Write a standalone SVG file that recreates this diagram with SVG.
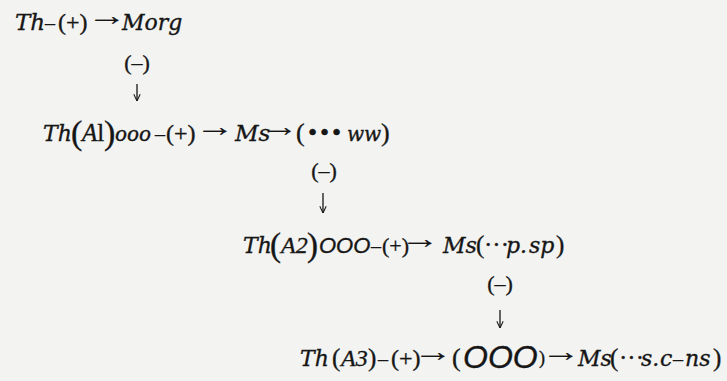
<svg xmlns="http://www.w3.org/2000/svg" width="727" height="381" viewBox="0 0 727 381">
<defs>
<style>
text{font-family:"Liberation Serif",serif;fill:#161616;stroke:#161616;stroke-width:0.35}
.i{font-family:"DejaVu Serif",serif;font-style:italic}
.t{font-family:"Liberation Serif",serif;font-style:italic}
.s{font-family:"Liberation Sans",sans-serif;font-style:italic}
.a{font-size:28px;stroke-width:0.2}
.lab{font-size:22px;text-anchor:middle}
.conn{stroke:#161616;stroke-width:1.3;fill:none}
</style>
<marker id="ah" viewBox="0 0 10 10" refX="9.5" refY="5" markerWidth="8" markerHeight="8" markerUnits="userSpaceOnUse" orient="auto">
<path d="M1,1 L9.5,5 L1,9" fill="none" stroke="#161616" stroke-width="1.3"/>
</marker>
</defs>
<rect width="727" height="381" fill="#f3f3f1"/>

<g id="node1">
<text y="30" font-size="24"><tspan class="i" x="15" font-size="23">Th</tspan><tspan x="45" font-size="20">–</tspan><tspan x="58">(+)</tspan><tspan class="i" x="122" font-size="22">Morg</tspan></text>
<text class="a" transform="translate(87,25) scale(1.4,1)">→</text>
</g>

<g id="node2">
<text y="141" font-size="24"><tspan class="i" x="43" font-size="22">Th</tspan><tspan x="71" y="144" font-size="34">(</tspan><tspan class="t" x="82" y="141" font-size="25">A</tspan><tspan font-size="25">l</tspan><tspan x="104" y="144" font-size="34">)</tspan><tspan class="i" x="115" y="141" font-size="20">ooo</tspan><tspan x="155" font-size="20">–</tspan><tspan x="166">(+)</tspan><tspan class="i" x="235" font-size="23">Ms</tspan><tspan x="296" font-size="26">(</tspan><tspan x="308" font-size="26">•</tspan><tspan x="320" font-size="26">•</tspan><tspan x="332" font-size="26">•</tspan><tspan class="i" x="347" font-size="20">ww</tspan><tspan x="381" font-size="26">)</tspan></text>
<text class="a" transform="translate(195,136) scale(1.4,1)">→</text>
<text class="a" transform="translate(262,136) scale(1.3,1)">→</text>
</g>

<g id="node3">
<text y="253" font-size="24"><tspan class="i" x="243" font-size="22">Th</tspan><tspan x="270" y="256" font-size="33">(</tspan><tspan class="t" x="281" y="253" font-size="24">A2</tspan><tspan x="307" y="256" font-size="33">)</tspan><tspan class="s" x="319" y="253" font-size="22">OOO</tspan><tspan x="371" font-size="20">–</tspan><tspan x="382" font-size="22">(+)</tspan><tspan class="i" x="443" font-size="22">Ms</tspan><tspan x="476" font-size="25">(</tspan><tspan x="484" font-size="25">···</tspan><tspan class="i" x="506" font-size="22">p.</tspan><tspan class="i" x="529" font-size="22">sp</tspan><tspan x="556" font-size="25">)</tspan></text>
<text class="a" transform="translate(400,248) scale(1.4,1)">→</text>
</g>

<g id="node4">
<text y="366" font-size="24"><tspan class="i" x="300" font-size="22">Th</tspan><tspan x="332" font-size="25">(</tspan><tspan class="t" x="341" font-size="24">A3</tspan><tspan x="368" font-size="25">)</tspan><tspan x="378" font-size="20">–</tspan><tspan x="391">(+)</tspan><tspan x="452" font-size="26">(</tspan><tspan class="s" x="463" y="368" font-size="32">OOO</tspan><tspan x="539" y="364" font-size="18">)</tspan><tspan class="i" x="578" y="366" font-size="22">Ms</tspan><tspan x="610" font-size="25">(</tspan><tspan x="619" font-size="25">···</tspan><tspan class="i" x="641" font-size="22">s.</tspan><tspan class="i" x="660" font-size="22">c</tspan><tspan x="673" font-size="20">–</tspan><tspan class="i" x="685" font-size="22">ns</tspan><tspan x="713" font-size="25">)</tspan></text>
<text class="a" transform="translate(413,361) scale(1.4,1)">→</text>
<text class="a" transform="translate(541,361) scale(1.4,1)">→</text>
</g>

<g id="connectors">
<text class="lab" x="137" y="70">(–)</text>
<line class="conn" x1="137" y1="84" x2="137" y2="101" marker-end="url(#ah)"/>
<text class="lab" x="324" y="178">(–)</text>
<line class="conn" x1="323" y1="193" x2="323" y2="213" marker-end="url(#ah)"/>
<text class="lab" x="500" y="291">(–)</text>
<line class="conn" x1="500" y1="310" x2="500" y2="328" marker-end="url(#ah)"/>
</g>
</svg>
